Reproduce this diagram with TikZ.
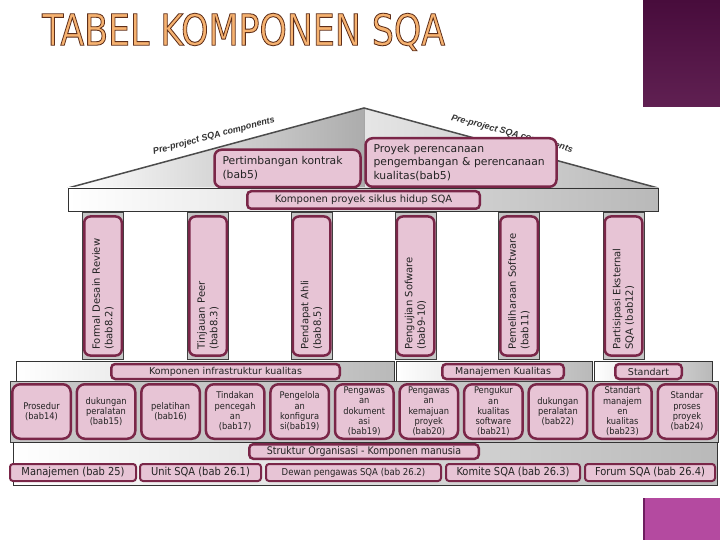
\documentclass[tikz,border=0pt]{standalone}
\usepackage{fontspec}
\setmainfont{DejaVu Sans}
\newfontfamily\condfont{DejaVu Sans Condensed}
\newfontfamily\roofont{Liberation Sans}

\definecolor{boxpink}{RGB}{231,196,213}
\definecolor{boxrim}{RGB}{122,38,72}
\definecolor{inkgray}{RGB}{35,35,35}
\definecolor{plumdark}{RGB}{72,12,60}
\definecolor{plumlight}{RGB}{96,32,82}
\definecolor{magentadeco}{RGB}{180,74,160}
\definecolor{magentaedge}{RGB}{110,30,95}

% outlined title letters: peach fill, brown stroke
\newcommand\outlinedtitle[1]{%
  \special{pdf:literal direct q 0.37 0.18 0.10 RG 0.965 0.70 0.44 rg 2 Tr 0.9 w}%
  #1\special{pdf:literal direct Q}}

\tikzset{
  pinkbox/.style={draw=boxrim, fill=boxpink, line width=2.5pt, rounded corners=5pt, inner sep=0pt, text=inkgray},
  roofbox/.style={pinkbox, rounded corners=7pt, align=left, inner xsep=8pt, font=\fontsize{10.8}{13.8}\selectfont},
  barlabel/.style={pinkbox, rounded corners=4pt, minimum height=15pt, font=\fontsize{9.5}{12}\selectfont},
  pillarbox/.style={pinkbox, rounded corners=6pt, rotate=90, align=left, inner xsep=6pt, text width=127pt, minimum height=37.5pt, font=\fontsize{10}{12.5}\selectfont},
  infrabox/.style={pinkbox, rounded corners=8pt, minimum width=58.5pt, minimum height=54.5pt, align=center, font=\condfont\fontsize{9.2}{10.3}\selectfont},
  staffbox/.style={pinkbox, rounded corners=3pt, line width=2pt, minimum height=17pt, font=\condfont\fontsize{11}{13}\selectfont},
  rooflabel/.style={font=\roofont\bfseries\itshape\fontsize{9}{10}\selectfont, text=black!80, inner sep=0pt},
  graybar/.style={draw=black!80, line width=0.8pt, left color=white, right color=gray!55},
}

\begin{document}
\begin{tikzpicture}[x=1pt, y=-1pt]
  \useasboundingbox (0,0) rectangle (720,540);
  % corner decorations
  \fill[top color=plumdark, bottom color=plumlight] (643,0) rectangle (720,107);
  \fill[magentadeco] (643,498) rectangle (720,540);
  \draw[magentaedge, line width=2pt] (644,498) -- (644,540);

  % title
  \node[anchor=north west, inner sep=0pt] (title) at (42,13)
    {\resizebox{403pt}{32pt}{\condfont\fontsize{44}{48}\selectfont\outlinedtitle{TABEL KOMPONEN SQA}}};

  % roof
  \fill[left color=white, right color=gray!65] (68,188) -- (364,108) -- (364,188) -- cycle;
  \fill[left color=gray!20, right color=gray!55] (364,108) -- (658,188) -- (364,188) -- cycle;
  \draw[gray!70] (364,108) -- (364,188);
  \draw[black!70, line width=1.5pt] (68,188) -- (364,108) -- (658,188);
  \node[rooflabel, rotate=15] (roofleft) at (214,136) {Pre-project SQA components};
  \node[rooflabel, rotate=-15] (roofright) at (512,134) {Pre-project SQA components};

  % lintel
  \draw[graybar] (68,188) rectangle (658,211);
  \node[roofbox, text width=130pt, minimum height=37.5pt] (kontrak) at (287.5,168.5)
    {Pertimbangan kontrak\\(bab5)};
  \node[roofbox, text width=175pt, minimum height=48.5pt] (rencana) at (461,162.5)
    {Proyek perencanaan\\pengembangan \& perencanaan\\kualitas(bab5)};
  \node[barlabel, minimum width=232.5pt, minimum height=17.5pt, font=\fontsize{10}{12}\selectfont] (siklus) at (363.5,200)
    {Komponen proyek siklus hidup SQA};

  % pillars
  \foreach \px/\ptext [count=\k] in {103/{Formal Desain Review\\(bab8.2)},
      208/{Tinjauan Peer\\(bab8.3)}, 311.5/{Pendapat Ahli\\(bab8.5)},
      415.5/{Pengujian Sofware\\(bab9-10)}, 519/{Pemeliharaan Software\\(bab11)},
      623.5/{Partisipasi Eksternal\\SQA (bab12)}} {
    \draw[black!75, fill=gray!45] (\px-20.5,212) rectangle (\px+20.5,359);
    \node[pillarbox] (pillar\k) at (\px,286) {\ptext};
  }

  % infrastructure level
  \draw[graybar] (16,361) rectangle (394,381);
  \draw[graybar] (396,361) rectangle (592,381);
  \draw[graybar] (594,361) rectangle (712,381);
  \node[barlabel, minimum width=228.5pt] (infra) at (225.5,371.5) {Komponen infrastruktur kualitas};
  \node[barlabel, minimum width=121.5pt] (mutu) at (503,371.5) {Manajemen Kualitas};
  \node[barlabel, minimum width=66.5pt] (standar) at (648.5,371.5) {Standart};

  \draw[black!75, fill=gray!45] (10,381) rectangle (718,442);
  \foreach \btext [count=\k from 0] in {{Prosedur\\(bab14)}, {dukungan\\peralatan\\(bab15)},
      {pelatihan\\(bab16)}, {Tindakan\\pencegah\\an\\(bab17)},
      {Pengelola\\an\\konfigura\\si(bab19)}, {Pengawas\\an\\dokument\\asi\\(bab19)},
      {Pengawas\\an\\kemajuan\\proyek\\(bab20)}, {Pengukur\\an\\kualitas\\software\\(bab21)},
      {dukungan\\peralatan\\(bab22)}, {Standart\\manajem\\en\\kualitas\\(bab23)},
      {Standar\\proses\\proyek\\(bab24)}} {
    \node[infrabox] (comp\k) at (41.5+64.55*\k,411.5) {\btext};
  }

  % organisation level
  \draw[graybar] (13,442) rectangle (717,485);
  \node[barlabel, minimum width=229.5pt, minimum height=14.5pt, font=\condfont\fontsize{10.5}{12}\selectfont] (struktur) at (364,451.5)
    {Struktur Organisasi - Komponen manusia};
  \node[staffbox, minimum width=126pt] (manajemen) at (73,472.5) {Manajemen (bab 25)};
  \node[staffbox, minimum width=121pt] (unit) at (200.5,472.5) {Unit SQA (bab 26.1)};
  \node[staffbox, minimum width=175pt, font=\condfont\fontsize{9.5}{12}\selectfont] (dewan) at (353.5,472.5) {Dewan pengawas SQA (bab 26.2)};
  \node[staffbox, minimum width=134pt] (komite) at (513,472.5) {Komite SQA (bab 26.3)};
  \node[staffbox, minimum width=130pt] (forum) at (650,472.5) {Forum SQA (bab 26.4)};
\end{tikzpicture}
\end{document}
